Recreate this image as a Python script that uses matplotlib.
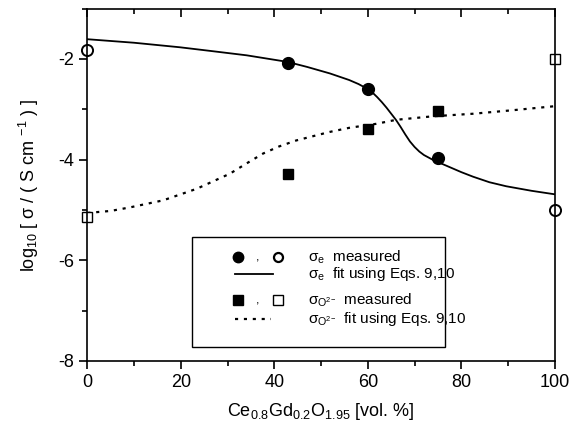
import matplotlib
matplotlib.use('Agg')
import matplotlib.pyplot as plt
from matplotlib.patches import Rectangle
from matplotlib.ticker import MultipleLocator

plt.rcParams['font.family'] = ['Liberation Sans', 'DejaVu Sans']
plt.rcParams['mathtext.fontset'] = 'custom'
plt.rcParams['mathtext.rm'] = 'Liberation Sans'
plt.rcParams['mathtext.it'] = 'Liberation Sans:italic'
plt.rcParams['axes.unicode_minus'] = False

# measured points
x_meas_e = [43, 60, 75]
y_meas_e = [-2.08, -2.60, -3.97]
x_end_e = [0, 100]
y_end_e = [-1.82, -5.0]

x_meas_o = [43, 60, 75]
y_meas_o = [-4.29, -3.39, -3.04]
x_end_o = [0, 100]
y_end_o = [-5.14, -2.0]

# fit curves
x_fit_e = [0, 10, 19.8, 27, 34.1, 42.8, 47, 51.9, 56, 58, 60, 61, 62, 63, 64, 65,
           66, 67, 68, 69, 70, 71, 72, 73, 74, 75, 77, 80, 82.5, 86, 89.6, 95, 100]
y_fit_e = [-1.61, -1.68, -1.77, -1.85, -1.93, -2.06, -2.16, -2.29, -2.42, -2.50,
           -2.60, -2.67, -2.76, -2.86, -2.97, -3.09, -3.21, -3.35, -3.50, -3.64,
           -3.75, -3.84, -3.91, -3.96, -4.01, -4.05, -4.13, -4.25, -4.34, -4.45,
           -4.53, -4.62, -4.69]
x_fit_o = [0, 5, 9.1, 16.2, 23.4, 30.5, 34, 37.6, 41, 44.7, 51.9, 56, 61.8, 66.1,
           74, 82.5, 91, 100]
y_fit_o = [-5.06, -5.02, -4.95, -4.81, -4.58, -4.28, -4.08, -3.88, -3.74, -3.62,
           -3.45, -3.37, -3.29, -3.21, -3.14, -3.09, -3.02, -2.94]

fig = plt.figure(figsize=(5.81, 4.25), dpi=100)
ax = fig.add_axes([0.1503, 0.1506, 0.8047, 0.8294])

ax.plot(x_fit_e, y_fit_e, color='black', lw=1.3)
ax.plot(x_fit_o, y_fit_o, color='black', lw=1.6, linestyle=(0, (1.4, 2.6)))
ax.plot(x_meas_e, y_meas_e, 'o', color='black', ms=8.5)
ax.plot(x_end_e, y_end_e, 'o', mfc='white', mec='black', mew=1.4, ms=8, clip_on=False)
ax.plot(x_meas_o, y_meas_o, 's', color='black', ms=7.5)
ax.plot(x_end_o, y_end_o, 's', mfc='white', mec='black', mew=1.0, ms=7.5, clip_on=False)

ax.set_xlim(0, 100)
ax.set_ylim(-8, -1)
ax.xaxis.set_major_locator(MultipleLocator(20))
ax.xaxis.set_minor_locator(MultipleLocator(10))
ax.yaxis.set_major_locator(MultipleLocator(2))
ax.yaxis.set_minor_locator(MultipleLocator(1))
ax.tick_params(axis='x', which='both', direction='out', top=True, labelsize=13, width=1.2)
ax.tick_params(axis='y', which='both', direction='out', right=False, labelsize=13, width=1.2)
ax.tick_params(which='major', length=6)
ax.tick_params(which='minor', length=3.5)
for t in ax.xaxis.get_major_ticks() + ax.xaxis.get_minor_ticks():
    t.tick2line.set_marker(3)
for s in ax.spines.values():
    s.set_linewidth(1.2)

ax.set_xlabel(r'Ce$_{0.8}$Gd$_{0.2}$O$_{1.95}$ [vol. %]', fontsize=13, labelpad=7)
ax.set_ylabel(r'log$_{10}$ [ σ / ( S cm $^{-1}$ ) ]', fontsize=13, labelpad=12)

# legend box drawn by hand
ax.add_patch(Rectangle((0.224, 0.040), 0.541, 0.312, transform=ax.transAxes,
                       fill=True, facecolor='white', edgecolor='black', lw=1.0, zorder=5))
rows = [0.295, 0.247, 0.173, 0.119]
tr = ax.transAxes
ax.plot([0.322], [rows[0]], 'o', color='black', ms=7.5, transform=tr, zorder=6)
ax.plot([0.408], [rows[0]], 'o', mfc='white', mec='black', mew=1.6, ms=6.5, transform=tr, zorder=6)
ax.text(0.365, rows[0], ',', transform=tr, ha='center', va='center', fontsize=9, zorder=6)
ax.plot([0.315, 0.397], [rows[1], rows[1]], color='black', lw=1.3, transform=tr, zorder=6)
ax.plot([0.322], [rows[2]], 's', color='black', ms=6.5, transform=tr, zorder=6)
ax.plot([0.408], [rows[2]], 's', mfc='white', mec='black', mew=1.0, ms=6.5, transform=tr, zorder=6)
ax.text(0.365, rows[2], ',', transform=tr, ha='center', va='center', fontsize=9, zorder=6)
ax.plot([0.315, 0.392], [rows[3], rows[3]], color='black', lw=1.6, linestyle=(0, (1.4, 2.6)),
        transform=tr, zorder=6)

labels = [r'σ$_\mathrm{e}$  measured',
          r'σ$_\mathrm{e}$  fit using Eqs. 9,10',
          r'σ$_{\mathrm{O}^{2\mathrm{-}}}$  measured',
          r'σ$_{\mathrm{O}^{2\mathrm{-}}}$  fit using Eqs. 9,10']
for r, lab in zip(rows, labels):
    ax.text(0.472, r, lab, transform=tr, ha='left', va='center', fontsize=11, zorder=6)

fig.savefig('out.png', dpi=100)
